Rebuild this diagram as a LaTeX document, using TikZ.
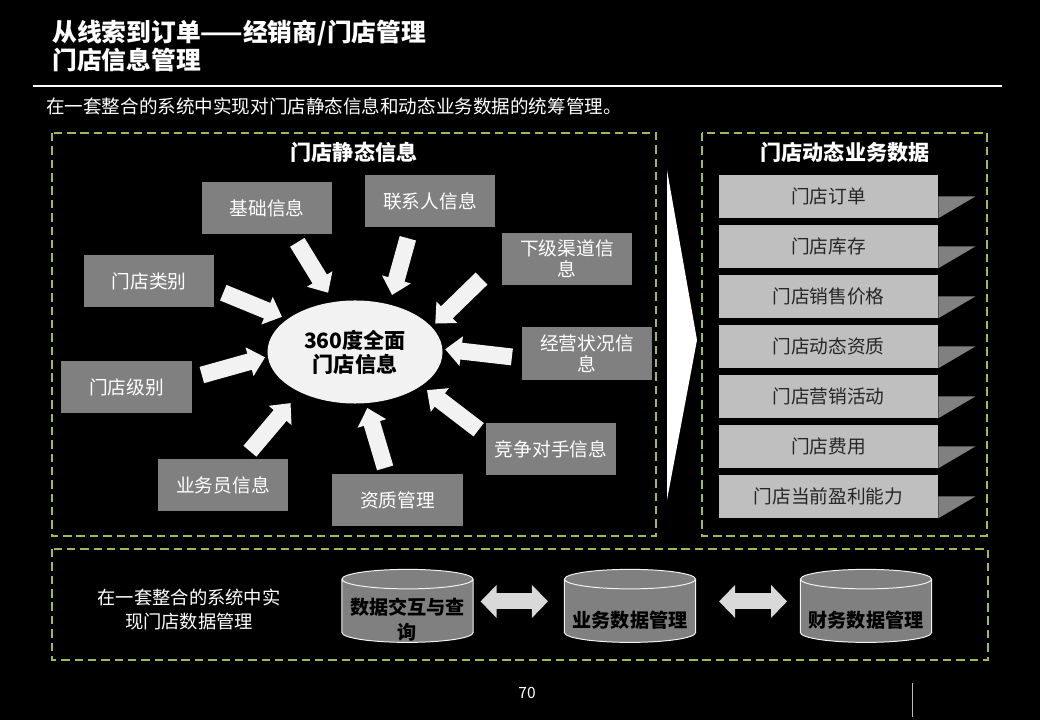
\documentclass[tikz,border=0pt]{standalone}
\usepackage{fontspec}
\setmainfont{Noto Sans CJK SC}
\usetikzlibrary{arrows.meta,shapes.geometric}

\definecolor{panelgreen}{RGB}{155,187,89}
\definecolor{boxgray}{RGB}{128,128,128}
\definecolor{itemgray}{RGB}{191,191,191}
\definecolor{offwhite}{RGB}{242,242,242}
\definecolor{dblgray}{RGB}{217,217,217}
\definecolor{darktext}{RGB}{38,38,38}

\begin{document}
\begin{tikzpicture}[x=0.025cm, y=-0.025cm]
	\tikzset{
		panel/.style={draw=panelgreen, line width=1.3pt, dash pattern=on 6pt off 3.5pt},
		heading/.style={text=white, font=\fontsize{15pt}{18pt}\selectfont\bfseries},
		info node/.style={rectangle, fill=boxgray, text=white, minimum width=3.25cm, minimum height=1.3cm, inner sep=0pt, align=center, font=\fontsize{13.3pt}{15pt}\selectfont},
		hub node/.style={ellipse, fill=offwhite, minimum width=4.375cm, minimum height=2.575cm, inner sep=0pt, outer sep=0pt, align=center, font=\fontsize{15pt}{17pt}\selectfont\bfseries},
		item node/.style={rectangle, fill=itemgray, text=darktext, minimum width=5.475cm, minimum height=1.075cm, inner sep=0pt, font=\fontsize{13.3pt}{15pt}\selectfont},
		db node/.style={cylinder, shape border rotate=90, aspect=0.17, draw=offwhite, line width=0.7pt, fill=boxgray, minimum width=3.275cm, minimum height=1.825cm, inner sep=0pt, font=\fontsize{13.6pt}{17.8pt}\selectfont\bfseries},
		db text/.style={inner sep=0pt, align=center, text=black, font=\fontsize{13.6pt}{17.8pt}\selectfont\bfseries},
		fatarrow/.style={draw=offwhite, line width=12pt, -{Triangle[length=11.5pt, width=20.5pt]}},
		dblarrow/.style={draw=dblgray, line width=11.4pt, {Triangle[length=11.4pt, width=22.8pt]}-{Triangle[length=11.4pt, width=22.8pt]}}
	}
	% Background
	\fill[black] (0,0) rectangle (1040,720);

	% Title
	\node (title) [anchor=west, inner sep=0pt, align=left, text=white, font=\fontsize{17.6pt}{20pt}\selectfont\bfseries] at (52,46) {从线索到订单——经销商/门店管理\\门店信息管理};
	\draw[white, line width=0.8pt] (33,86) -- (1002,86);
	\node (intro) [anchor=west, inner sep=0pt, text=white, font=\fontsize{13.2pt}{15pt}\selectfont] at (46,106) {在一套整合的系统中实现对门店静态信息和动态业务数据的统筹管理。};

	% Panels
	\draw[panel] (52,133) rectangle (656,536);
	\draw[panel] (702,133) rectangle (987,536);
	\draw[panel] (52,549) rectangle (988,660);
	\node (static) [heading] at (354,152) {门店静态信息};
	\node (dynamic) [heading] at (845,152) {门店动态业务数据};

	% Static information
	\node (hub) [hub node] at (355,352) {360度全面\\门店信息};
	\node (jichu) [info node] at (267,208) {基础信息};
	\node (lianxi) [info node] at (430,201) {联系人信息};
	\node (xiaji) [info node] at (567,259) {下级渠道信\\息};
	\node (leibie) [info node] at (149,281) {门店类别};
	\node (jingying) [info node] at (587,353.5) {经营状况信\\息};
	\node (jibie) [info node] at (126.5,387) {门店级别};
	\node (jingzheng) [info node] at (551,449) {竞争对手信息};
	\node (yewu) [info node] at (223,485) {业务员信息};
	\node (zizhi) [info node] at (397.5,500) {资质管理};

	\foreach \src/\ang/\s/\e in {jichu.-46/113/6.7pt/7.7pt, lianxi.234/54/8.1pt/7.1pt, xiaji.west/18/20pt/3.6pt,
		leibie.-7/154/6.9pt/4.3pt, jingying.184/2/7pt/2pt, jibie.8/183/7.4pt/2pt,
		jingzheng.168/-27/6.3pt/5.2pt, yewu.52/216/7pt/10.3pt, zizhi.112/-78/4.3pt/3.6pt} {
		\draw[fatarrow, shorten <=\s, shorten >=\e] (\src) -- (hub.\ang);
	}

	% Big chevron between the panels
	\fill[white] (667,170) -- (697,340) -- (667,500) -- cycle;

	% Dynamic business data
	\foreach \i/\t in {0/门店订单, 1/门店库存, 2/门店销售价格, 3/门店动态资质, 4/门店营销活动, 5/门店费用, 6/门店当前盈利能力} {
		\node (dyn\i) [item node] at (828.5,196.5+50*\i) {\t};
		\fill[boxgray] (dyn\i.east) -- ++(37,0) -- (dyn\i.south east) -- cycle;
	}

	% Data management
	\node (note) [align=center, text=white, font=\fontsize{13pt}{16.4pt}\selectfont] at (189,609.5) {在一套整合的系统中实\\现门店数据管理};
	\node (cyl1) [db node] at (407.5,611) {\phantom{业务数据管理}};
	\node (cyl2) [db node] at (630,611) {\phantom{业务数据管理}};
	\node (cyl3) [db node] at (866,611) {\phantom{业务数据管理}};
	\node (cyl1text) [db text] at ([yshift=-6.3pt]cyl1.center) {数据交互与查\\询};
	\node (cyl2text) [db text] at ([yshift=-6.3pt]cyl2.center) {业务数据管理};
	\node (cyl3text) [db text] at ([yshift=-6.3pt]cyl3.center) {财务数据管理};
	\draw[dblarrow, shorten <=5pt, shorten >=11.4pt] ([yshift=6.8pt]cyl1.east) -- ([yshift=6.8pt]cyl2.west);
	\draw[dblarrow, shorten <=16.4pt, shorten >=9.2pt] ([yshift=6.8pt]cyl2.east) -- ([yshift=6.8pt]cyl3.west);

	% Footer
	\node (page) [text=white, font=\fontsize{11pt}{13pt}\selectfont] at (527,693) {70};
	\draw[itemgray, line width=0.7pt] (912,683) -- (912,717);
\end{tikzpicture}
\end{document}
